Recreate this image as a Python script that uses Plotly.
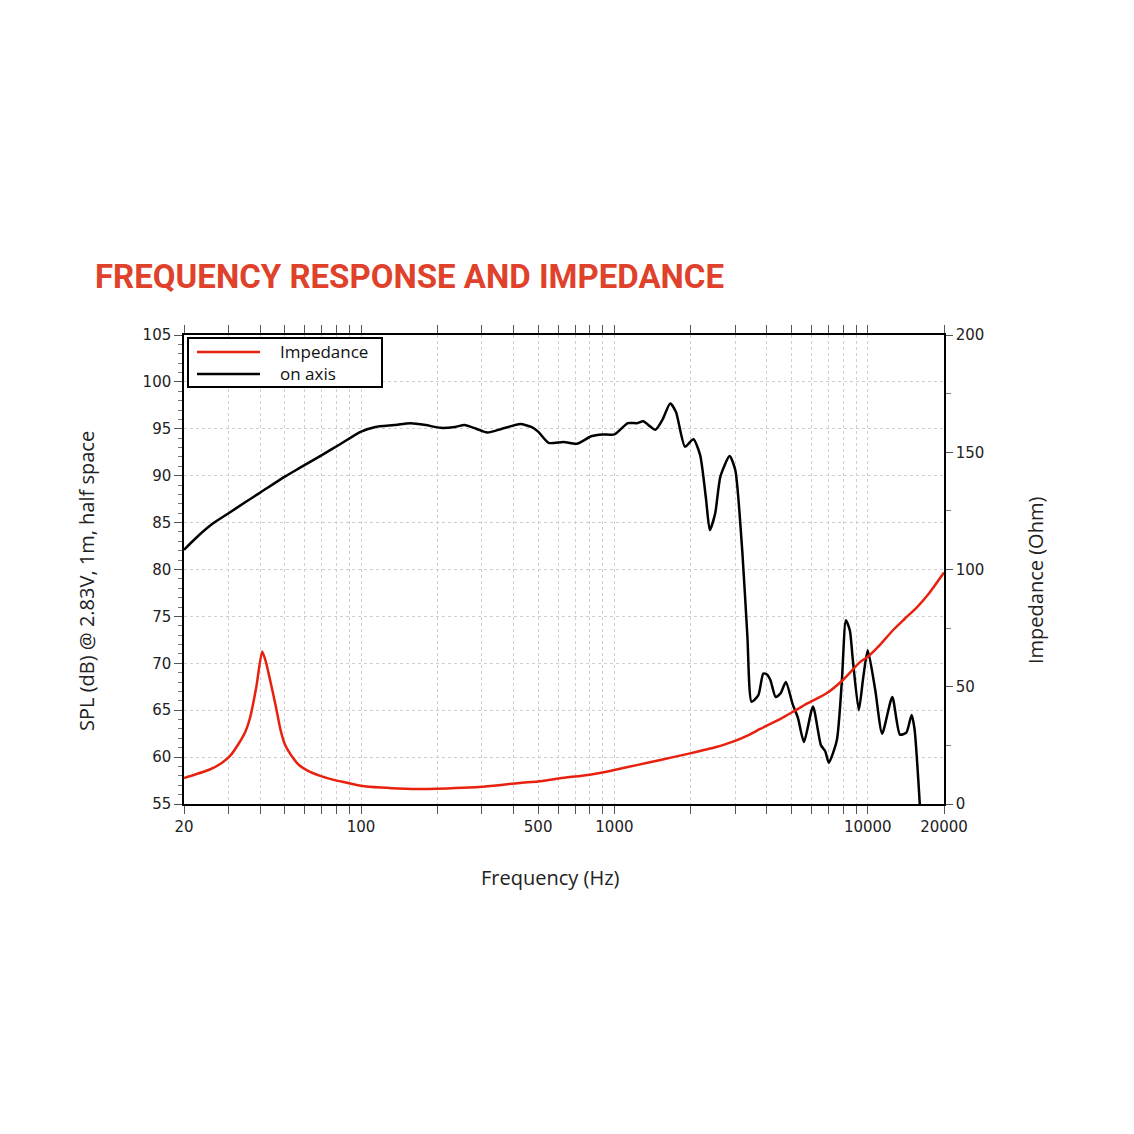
import plotly.graph_objects as go

# ---- data ----
spl_freq = [20, 23, 26, 30, 35, 40, 50, 57, 70, 82, 100, 114, 135, 157, 180, 206, 235, 256, 285, 315,
            360, 425, 470, 500, 550, 630, 710, 810, 900, 1000, 1130, 1230, 1300, 1450, 1550, 1660, 1750,
            1900, 2050, 2180, 2300, 2380, 2500, 2620, 2850, 3000, 3200, 3350, 3480, 3700, 3870, 4000,
            4130, 4330, 4530, 4750, 5060, 5300, 5600, 6080, 6530, 6800, 7020, 7550, 7900, 8200, 8500,
            8730, 9220, 9600, 10000, 10700, 11400, 12500, 13400, 14200, 14900, 15300, 16050]
spl_db = [82.1, 83.7, 84.9, 86.0, 87.2, 88.2, 89.9, 90.8, 92.2, 93.3, 94.7, 95.2, 95.4, 95.6, 95.4, 95.1,
          95.2, 95.4, 95.0, 94.6, 95.0, 95.5, 95.2, 94.7, 93.5, 93.6, 93.4, 94.2, 94.4, 94.4, 95.6, 95.6,
          95.8, 94.9, 96.0, 97.7, 96.8, 93.1, 93.9, 92.2, 87.5, 84.2, 86.0, 89.9, 92.1, 90.6, 81.8, 72.8,
          65.9, 66.6, 68.9, 68.8, 68.2, 66.4, 66.8, 68.0, 65.6, 64.2, 61.6, 65.4, 61.3, 60.6, 59.4, 61.8,
          68.0, 74.6, 73.5, 70.4, 65.0, 68.5, 71.4, 67.2, 62.5, 66.4, 62.4, 62.6, 64.5, 63.0, 55.0]

imp_freq = [20, 22, 25, 28, 30.4, 33, 35, 36.5, 38.6, 40.7, 42, 43.5, 46, 48, 50, 54, 57, 62, 69, 78, 87,
            100, 120, 150, 170, 200, 267, 350, 425, 500, 610, 800, 1000, 1250, 1520, 1990, 2500, 2940,
            3400, 3760, 4530, 5080, 5800, 6880, 8000, 9320, 10000, 11200, 12600, 14000, 15700, 17500,
            20000]
imp_ohm = [11.1, 12.5, 14.5, 17.3, 20.5, 26, 31, 37, 50, 65, 61, 54, 42, 32, 25.5, 19.5, 16.5, 14, 12,
           10.3, 9.2, 7.8, 7.0, 6.5, 6.4, 6.5, 7.0, 8.0, 9.0, 9.6, 11.0, 12.5, 14.5, 16.8, 18.8, 21.6,
           24.2, 26.6, 29.5, 32.0, 36.3, 39.4, 43.0, 47.2, 53.0, 60.5, 62.8, 68.0, 74.2, 79.0, 84.1,
           90.0, 98.7]

x_tickvals = [20, 30, 40, 50, 60, 70, 80, 90, 100, 200, 300, 400, 500, 600, 700, 800, 900,
              1000, 2000, 3000, 4000, 5000, 6000, 7000, 8000, 9000, 10000, 20000]
x_labelled = {20: "20", 100: "100", 500: "500", 1000: "1000", 10000: "10000", 20000: "20000"}
x_ticktext = [x_labelled.get(v, "") for v in x_tickvals]

title_text = "FREQUENCY RESPONSE AND IMPEDANCE"
legend_labels = ["Impedance", "on axis"]
RED = "#e8210f"
TITLE_RED = "#e0412a"

fig = go.Figure()
fig.add_trace(go.Scatter(x=imp_freq, y=imp_ohm, yaxis="y2", mode="lines",
                         line=dict(color=RED, width=2.5, shape="spline", smoothing=0.6),
                         name=legend_labels[0], showlegend=False))
fig.add_trace(go.Scatter(x=spl_freq, y=spl_db, mode="lines",
                         line=dict(color="black", width=2.5, shape="spline", smoothing=0.6),
                         name=legend_labels[1], showlegend=False))

L, R, T, B = 184, 944, 335, 804
W = R - L
H = B - T

def px(x):
    return (x - L) / W

def py(y):
    return (B - y) / H

tick_font = dict(family="DejaVu Sans", size=15, color="#222")
fig.update_layout(
    width=1134, height=1134,
    margin=dict(l=L, r=1134 - R, t=T, b=1134 - B, pad=0),
    paper_bgcolor="white", plot_bgcolor="white",
    xaxis=dict(type="log", range=[1.30103, 4.30103], tickmode="array",
               tickvals=x_tickvals, ticktext=x_ticktext, ticks="outside", ticklen=8,
               tickcolor="#555", tickwidth=1, showline=True, linecolor="black", linewidth=1.5,
               mirror="allticks", showgrid=True, gridcolor="#cfcfcf", griddash="dot",
               gridwidth=1, tickfont=tick_font, zeroline=False),
    yaxis=dict(range=[55, 105], tickmode="linear", tick0=55, dtick=5, ticks="outside", ticklen=8,
               tickcolor="#555", showline=True, linecolor="black", linewidth=1.5, mirror=True,
               showgrid=True, gridcolor="#cfcfcf", griddash="dot", gridwidth=1,
               tickfont=tick_font, zeroline=False,
               minor=dict(dtick=1, ticks="outside", ticklen=4, tickcolor="#777", showgrid=False)),
    yaxis2=dict(range=[0, 200], overlaying="y", side="right", tickmode="linear", tick0=0, dtick=50,
                ticks="outside", ticklen=7, tickcolor="#555", showline=True, linecolor="black",
                linewidth=1.5, showgrid=False, tickfont=tick_font, zeroline=False,
                minor=dict(dtick=25, ticks="outside", ticklen=5, tickcolor="#777")),
)

annotations = [
    dict(text="<b>" + title_text + "</b>", x=px(93), y=py(276), xref="paper", yref="paper",
         xanchor="left", yanchor="middle", showarrow=False,
         font=dict(family="Roboto", size=33, color=TITLE_RED)),
    dict(text="SPL (dB) @ 2.83V, 1m, half space", x=px(86), y=py(581), xref="paper", yref="paper",
         textangle=-90, showarrow=False, xanchor="center", yanchor="middle",
         font=dict(family="Open Sans", size=20, color="#222")),
    dict(text="Impedance (Ohm)", x=px(1035), y=py(581), xref="paper", yref="paper",
         textangle=-90, showarrow=False, xanchor="center", yanchor="middle",
         font=dict(family="Open Sans", size=20, color="#222")),
    dict(text="Frequency (Hz)", x=px(550), y=py(877), xref="paper", yref="paper",
         showarrow=False, xanchor="center", yanchor="middle",
         font=dict(family="Open Sans", size=20, color="#222")),
    dict(text=legend_labels[0], x=px(278), y=py(351), xref="paper", yref="paper",
         showarrow=False, xanchor="left", yanchor="middle",
         font=dict(family="Open Sans", size=17, color="#111")),
    dict(text=legend_labels[1], x=px(278), y=py(373), xref="paper", yref="paper",
         showarrow=False, xanchor="left", yanchor="middle",
         font=dict(family="Open Sans", size=17, color="#111")),
]
fig.update_layout(annotations=annotations)

shapes = [
    dict(type="rect", xref="paper", yref="paper", x0=px(188), x1=px(382), y0=py(387), y1=py(338),
         line=dict(color="black", width=2), fillcolor="white", layer="above"),
    dict(type="line", xref="paper", yref="paper", x0=px(197), x1=px(260), y0=py(352), y1=py(352),
         line=dict(color=RED, width=2.5), layer="above"),
    dict(type="line", xref="paper", yref="paper", x0=px(197), x1=px(260), y0=py(374), y1=py(374),
         line=dict(color="black", width=2.5), layer="above"),
]
fig.update_layout(shapes=shapes)

fig.write_html("out.html")
